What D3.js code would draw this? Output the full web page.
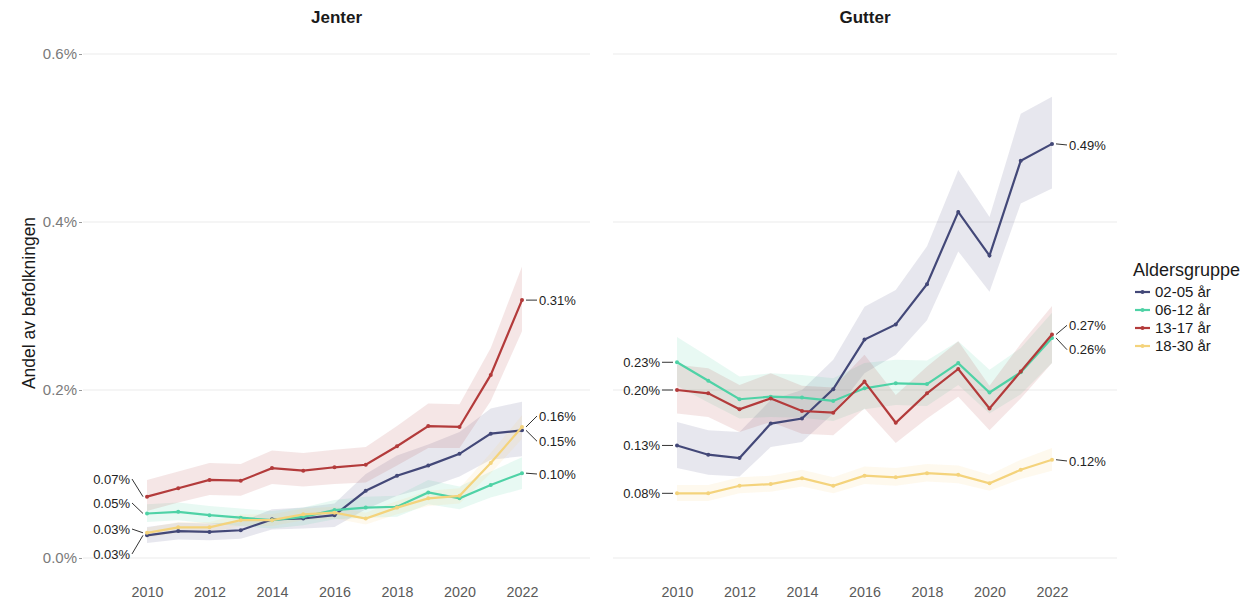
<!DOCTYPE html>
<html>
<head>
<meta charset="utf-8">
<script src="https://cdn.jsdelivr.net/npm/d3@7"></script>
<style>
  body { margin: 0; background: #fff; }
  svg { font-family: 'Liberation Sans', Arial, sans-serif; }
</style>
</head>
<body>
<div id="chart"></div>
<script>
const years = [2010, 2011, 2012, 2013, 2014, 2015, 2016, 2017, 2018, 2019, 2020, 2021, 2022]
const groups = ['02-05 år', '06-12 år', '13-17 år', '18-30 år']
const groupColors = ['#434878', '#4fd2a6', '#b33b3b', '#f4d37c']
const panels = ['Jenter', 'Gutter']
const yTicks = [0, 0.2, 0.4, 0.6]
const xTicks = [2010, 2012, 2014, 2016, 2018, 2020, 2022]

// Jenter (values in percent)
const jenter0205 = [0.027, 0.032, 0.031, 0.033, 0.046, 0.047, 0.051, 0.080, 0.098, 0.110, 0.124, 0.148, 0.152]
const jenter0205Lo = [0.018, 0.022, 0.021, 0.023, 0.034, 0.035, 0.037, 0.058, 0.074, 0.084, 0.097, 0.117, 0.121]
const jenter0205Hi = [0.037, 0.042, 0.041, 0.043, 0.058, 0.060, 0.065, 0.100, 0.122, 0.135, 0.150, 0.178, 0.186]
const jenter0612 = [0.053, 0.055, 0.051, 0.048, 0.045, 0.049, 0.057, 0.060, 0.061, 0.078, 0.071, 0.087, 0.101]
const jenter0612Lo = [0.043, 0.045, 0.041, 0.038, 0.035, 0.039, 0.046, 0.048, 0.049, 0.064, 0.058, 0.072, 0.082]
const jenter0612Hi = [0.064, 0.066, 0.062, 0.059, 0.056, 0.060, 0.069, 0.073, 0.074, 0.093, 0.085, 0.103, 0.120]
const jenter1317 = [0.073, 0.083, 0.093, 0.092, 0.107, 0.104, 0.108, 0.111, 0.133, 0.157, 0.156, 0.218, 0.307]
const jenter1317Lo = [0.056, 0.066, 0.075, 0.074, 0.088, 0.085, 0.088, 0.090, 0.110, 0.131, 0.131, 0.187, 0.270]
const jenter1317Hi = [0.093, 0.103, 0.113, 0.112, 0.128, 0.125, 0.129, 0.132, 0.157, 0.184, 0.183, 0.250, 0.347]
const jenter1830 = [0.030, 0.0365, 0.0365, 0.045, 0.045, 0.052, 0.054, 0.047, 0.060, 0.071, 0.074, 0.113, 0.156]
const jenter1830Lo = [0.024, 0.030, 0.030, 0.038, 0.038, 0.045, 0.047, 0.040, 0.052, 0.062, 0.065, 0.101, 0.142]
const jenter1830Hi = [0.036, 0.043, 0.043, 0.052, 0.052, 0.059, 0.061, 0.054, 0.068, 0.080, 0.083, 0.125, 0.170]

// Gutter (values in percent)
const gutter0205 = [0.134, 0.123, 0.119, 0.160, 0.166, 0.201, 0.260, 0.278, 0.326, 0.412, 0.360, 0.473, 0.493]
const gutter0205Lo = [0.107, 0.099, 0.097, 0.132, 0.138, 0.172, 0.220, 0.242, 0.283, 0.365, 0.317, 0.422, 0.440]
const gutter0205Hi = [0.162, 0.152, 0.150, 0.188, 0.200, 0.236, 0.299, 0.319, 0.371, 0.462, 0.406, 0.529, 0.549]
const gutter0612 = [0.233, 0.211, 0.189, 0.192, 0.191, 0.187, 0.202, 0.208, 0.207, 0.232, 0.197, 0.221, 0.262]
const gutter0612Lo = [0.205, 0.185, 0.166, 0.168, 0.167, 0.163, 0.177, 0.182, 0.181, 0.206, 0.172, 0.195, 0.232]
const gutter0612Hi = [0.263, 0.240, 0.216, 0.220, 0.218, 0.214, 0.232, 0.236, 0.235, 0.258, 0.224, 0.250, 0.292]
const gutter1317 = [0.200, 0.196, 0.177, 0.190, 0.175, 0.173, 0.210, 0.161, 0.196, 0.225, 0.178, 0.222, 0.266]
const gutter1317Lo = [0.172, 0.168, 0.150, 0.162, 0.148, 0.146, 0.178, 0.137, 0.166, 0.192, 0.152, 0.190, 0.232]
const gutter1317Hi = [0.230, 0.226, 0.206, 0.220, 0.205, 0.203, 0.242, 0.194, 0.228, 0.258, 0.205, 0.255, 0.300]
const gutter1830 = [0.077, 0.077, 0.086, 0.088, 0.095, 0.086, 0.098, 0.096, 0.101, 0.099, 0.089, 0.105, 0.117]
const gutter1830Lo = [0.068, 0.068, 0.077, 0.079, 0.085, 0.077, 0.088, 0.086, 0.091, 0.089, 0.080, 0.094, 0.104]
const gutter1830Hi = [0.087, 0.087, 0.096, 0.098, 0.105, 0.096, 0.109, 0.107, 0.112, 0.110, 0.099, 0.117, 0.131]

// where the repelled value labels sit (percent), order = groups
const jenterLabelStart = [0.0048, 0.0655, 0.094, 0.0345]
const jenterLabelEnd = [0.139, 0.100, 0.307, 0.169]
const gutterLabelStart = [0.134, 0.233, 0.200, 0.077]
const gutterLabelEnd = [0.4917, 0.248, 0.277, 0.1155]

const series = [
  [
    { v: jenter0205, lo: jenter0205Lo, hi: jenter0205Hi },
    { v: jenter0612, lo: jenter0612Lo, hi: jenter0612Hi },
    { v: jenter1317, lo: jenter1317Lo, hi: jenter1317Hi },
    { v: jenter1830, lo: jenter1830Lo, hi: jenter1830Hi }
  ],
  [
    { v: gutter0205, lo: gutter0205Lo, hi: gutter0205Hi },
    { v: gutter0612, lo: gutter0612Lo, hi: gutter0612Hi },
    { v: gutter1317, lo: gutter1317Lo, hi: gutter1317Hi },
    { v: gutter1830, lo: gutter1830Lo, hi: gutter1830Hi }
  ]
]
const labelStart = [jenterLabelStart, gutterLabelStart]
const labelEnd = [jenterLabelEnd, gutterLabelEnd]

const width = 1254
const height = 606
const svg = d3.select('#chart')
  .append('svg')
  .attr('width', width)
  .attr('height', height)

const colors = d3.scaleOrdinal().domain(groups).range(groupColors)
const yScale = d3.scaleLinear().domain([0, 0.6]).range([558, 54])
const panelBox = [
  { left: 83, right: 590, x0: 147, x1: 522 },
  { left: 613, right: 1117, x0: 677, x1: 1052 }
]
const fmt = v => `${v.toFixed(2)}%`

panels.forEach((name, p) => {
  const box = panelBox[p]
  const xScale = d3.scaleLinear().domain([2010, 2022]).range([box.x0, box.x1])
  const g = svg.append('g').attr('class', 'panel')

  g.append('g')
    .selectAll('line')
    .data(yTicks)
    .join('line')
    .attr('x1', box.left)
    .attr('x2', box.right)
    .attr('y1', d => yScale(d))
    .attr('y2', d => yScale(d))
    .attr('stroke', '#ebebeb')
    .attr('stroke-width', 1.1)

  const axisX = d3.axisBottom(xScale).tickValues(xTicks).tickFormat(d3.format('d')).tickSize(0).tickPadding(0)
  g.append('g')
    .attr('transform', 'translate(0, 587)')
    .call(axisX)
    .call(a => a.select('.domain').remove())
    .call(a => a.selectAll('text')
      .attr('font-size', 14.3)
      .attr('fill', '#5a5a5a')
      .attr('font-family', 'Liberation Sans, Arial, sans-serif'))

  if (p === 0) {
    const axisY = d3.axisLeft(yScale).tickValues(yTicks).tickFormat(d => `${d.toFixed(1)}%`).tickSize(3).tickPadding(2)
    g.append('g')
      .attr('transform', `translate(${box.left - 1}, 0)`)
      .call(axisY)
      .call(a => a.select('.domain').remove())
      .call(a => a.selectAll('line').attr('stroke', '#999'))
      .call(a => a.selectAll('text')
        .attr('font-size', 15)
        .attr('fill', '#7a7a7a')
        .attr('font-family', 'Liberation Sans, Arial, sans-serif'))
  }

  g.append('text')
    .attr('x', (box.left + box.right) / 2)
    .attr('y', 23)
    .attr('text-anchor', 'middle')
    .attr('font-size', 17)
    .attr('font-weight', 'bold')
    .attr('fill', '#1a1a1a')
    .text(name)

  const area = d3.area()
    .x((d, i) => xScale(years[i]))
    .y0(d => yScale(d[0]))
    .y1(d => yScale(d[1]))
  const line = d3.line()
    .x((d, i) => xScale(years[i]))
    .y(d => yScale(d))

  const data = series[p].map((s, k) => ({ ...s, name: groups[k] }))

  g.append('g')
    .selectAll('path')
    .data(data)
    .join('path')
    .attr('d', d => area(d.lo.map((lo, i) => [lo, d.hi[i]])))
    .attr('fill', d => colors(d.name))
    .attr('fill-opacity', 0.13)

  const lines = g.selectAll('.series')
    .data(data)
    .join('g')
    .attr('class', 'series')
  lines.append('path')
    .attr('d', d => line(d.v))
    .attr('fill', 'none')
    .attr('stroke', d => colors(d.name))
    .attr('stroke-width', 2.2)
  lines.selectAll('circle')
    .data(d => d.v.map((v, i) => ({ v, year: years[i], name: d.name })))
    .join('circle')
    .attr('cx', d => xScale(d.year))
    .attr('cy', d => yScale(d.v))
    .attr('r', 2)
    .attr('fill', d => colors(d.name))

  // value labels at first and last year, with leader lines
  const labels = []
  data.forEach((d, k) => {
    labels.push({ side: -1, year: 2010, v: d.v[0], ly: labelStart[p][k] })
    labels.push({ side: 1, year: 2022, v: d.v[d.v.length - 1], ly: labelEnd[p][k] })
  })
  const lab = g.append('g')
    .selectAll('g')
    .data(labels)
    .join('g')
  lab.append('line')
    .attr('x1', d => xScale(d.year) + d.side * 4)
    .attr('y1', d => yScale(d.v))
    .attr('x2', d => xScale(d.year) + d.side * 15)
    .attr('y2', d => yScale(d.ly))
    .attr('stroke', '#333')
    .attr('stroke-width', 1)
  lab.append('text')
    .attr('x', d => xScale(d.year) + d.side * 17)
    .attr('y', d => yScale(d.ly))
    .attr('dy', '0.35em')
    .attr('text-anchor', d => d.side < 0 ? 'end' : 'start')
    .attr('font-size', 13)
    .attr('fill', '#222')
    .text(d => fmt(d.v))
})

svg.append('text')
  .attr('transform', 'rotate(-90)')
  .attr('x', -303)
  .attr('y', 35)
  .attr('text-anchor', 'middle')
  .attr('font-size', 17.5)
  .attr('fill', '#1a1a1a')
  .text('Andel av befolkningen')

const legend = svg.append('g').attr('transform', 'translate(1133, 0)')
legend.append('text')
  .attr('x', 0)
  .attr('y', 276)
  .attr('font-size', 18)
  .attr('fill', '#1a1a1a')
  .text('Aldersgruppe')
const item = legend.selectAll('.item')
  .data(groups)
  .join('g')
  .attr('class', 'item')
  .attr('transform', (d, i) => `translate(0, ${292 + i * 18})`)
item.append('line')
  .attr('x1', 2)
  .attr('x2', 17)
  .attr('stroke', d => colors(d))
  .attr('stroke-width', 2.2)
item.append('circle')
  .attr('cx', 9.5)
  .attr('r', 2)
  .attr('fill', d => colors(d))
item.append('text')
  .attr('x', 22)
  .attr('dy', '0.35em')
  .attr('font-size', 15)
  .attr('fill', '#1a1a1a')
  .text(d => d)
</script>
</body>
</html>
